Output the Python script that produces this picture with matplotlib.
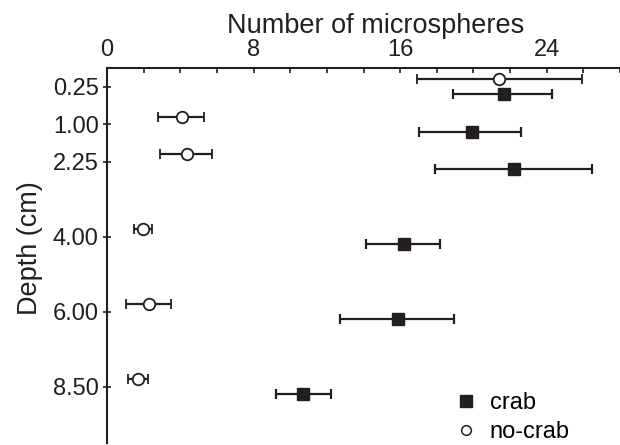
#!/usr/bin/env python3
import numpy as np
import matplotlib
matplotlib.use('Agg')
import matplotlib.pyplot as plt
from matplotlib.lines import Line2D

plt.rcParams['font.family'] = ['Liberation Sans', 'DejaVu Sans']

depth_labels = ['0.25', '1.00', '2.25', '4.00', '6.00', '8.50']
depth_pos = [0, 1, 2, 4, 6, 8]

# crab: mean, lower end, upper end of error bar
crab_mean = [21.65, 19.9, 22.2, 16.2, 15.9, 10.7]
crab_lo = [18.9, 17.05, 17.9, 14.15, 12.7, 9.2]
crab_hi = [24.3, 22.6, 26.45, 18.2, 18.95, 12.2]

# no-crab
nocrab_mean = [21.4, 4.08, 4.39, 1.98, 2.31, 1.71]
nocrab_lo = [16.9, 2.79, 2.9, 1.49, 1.02, 1.16]
nocrab_hi = [25.9, 5.3, 5.74, 2.44, 3.5, 2.22]

ink = '#231f20'

fig = plt.figure(figsize=(6.2, 4.45), dpi=100)
ax = fig.add_axes([0.1726, 0.0045, 0.8274, 0.8425])

pos = np.array(depth_pos, dtype=float)
cm = np.array(crab_mean)
nm = np.array(nocrab_mean)
c_err = [cm - np.array(crab_lo), np.array(crab_hi) - cm]
n_err = [nm - np.array(nocrab_lo), np.array(nocrab_hi) - nm]

ax.errorbar(nm, pos - 0.2, xerr=n_err, fmt='o', ms=8.3, mfc='white', mec=ink, mew=1.3,
            ecolor=ink, elinewidth=1.6, capsize=3.5, capthick=1.6, zorder=3)
ax.errorbar(cm, pos + 0.2, xerr=c_err, fmt='s', ms=8.7, mfc=ink, mec=ink,
            ecolor=ink, elinewidth=1.6, capsize=3.5, capthick=1.6, zorder=3)

ax.set_xlim(0, 28)
ax.set_ylim(9.5, -0.5)

ax.xaxis.tick_top()
ax.xaxis.set_label_position('top')
ax.set_xticks([0, 8, 16, 24])
ax.set_xticks(np.arange(0, 29, 2), minor=True)
ax.tick_params(axis='x', which='both', direction='in', length=3.5, width=1.2,
               labelsize=17, pad=5, colors=ink)
ax.set_yticks(depth_pos)
ax.set_yticklabels(depth_labels)
ax.tick_params(axis='y', direction='inout', length=6, width=1.2, labelsize=17,
               pad=3, colors=ink)

ax.set_xlabel('Number of microspheres', fontsize=19.5, color=ink)
ax.xaxis.set_label_coords(0.523, 1.093)
ax.set_ylabel('Depth (cm)', fontsize=19.5, color=ink)
ax.yaxis.set_label_coords(-0.125, 0.52)

for side in ['right', 'bottom']:
    ax.spines[side].set_visible(False)
for side in ['top', 'left']:
    ax.spines[side].set_linewidth(1.5)
    ax.spines[side].set_color(ink)

handles = [
    Line2D([], [], ls='none', marker='s', ms=8, mfc=ink, mec=ink),
    Line2D([], [], ls='none', marker='o', ms=7, mfc='white', mec=ink, mew=1.1),
]
ax.legend(handles, ['crab', 'no-crab'], loc='lower right', bbox_to_anchor=(0.943, -0.058),
          frameon=False, fontsize=17, handletextpad=0.4, labelspacing=0.3,
          handlelength=1.2)

plt.savefig('out.png', dpi=100)
